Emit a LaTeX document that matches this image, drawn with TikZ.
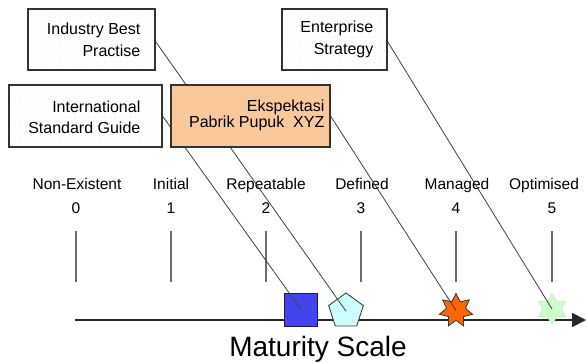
\documentclass[tikz,border=0pt]{standalone}
\usepackage{fontspec}
\setmainfont{Liberation Sans}
\usetikzlibrary{shapes.geometric,arrows.meta,patterns.meta}
\definecolor{peach}{RGB}{250,200,155}
\definecolor{sqblue}{RGB}{68,68,238}
\definecolor{sqedge}{RGB}{25,25,90}
\definecolor{pentfill}{RGB}{204,255,255}
\definecolor{orangestar}{RGB}{255,102,0}
\definecolor{greenstar}{RGB}{204,255,204}
\definecolor{greenedge}{RGB}{185,240,185}
\pgfdeclarelayer{bg}
\pgfdeclarelayer{mid}
\pgfsetlayers{bg,mid,main}
\tikzset{
  boxnode/.style={draw=black!80, line width=1.1pt, preaction={fill=#1},
    pattern={Dots[distance=5pt,radius=0.35pt]}, pattern color=black!22,
    inner sep=0pt},
  boxnode/.default=white,
  boxtext/.style={font=\fontsize{16}{22}\selectfont, align=right, inner sep=0pt},
  scalelbl/.style={font=\fontsize{15.5}{18}\selectfont, inner sep=0pt, anchor=base},
  tickline/.style={draw=gray!85!black, line width=1.7pt},
  conn/.style={draw=black!75, line width=0.8pt},
}
\begin{document}
\begin{tikzpicture}[x=1pt,y=1pt]
\useasboundingbox (0,0) rectangle (586,362);
\begin{pgfonlayer}{bg}
  % ticks
  \foreach \i/\x in {0/76,1/171,2/266,3/361,4/456,5/552}{
    \coordinate (tt\i) at (\x,131);
    \coordinate (tb\i) at (\x,80);
    \draw[tickline] (tt\i) -- (tb\i);
    \node[scalelbl] (num\i) at (\x,148.5) {\i};
  }
  \node[scalelbl] (l0) at (77,172.5) {Non-Existent};
  \node[scalelbl] (l1) at (171,172.5) {Initial};
  \node[scalelbl] (l2) at (266,172.5) {Repeatable};
  \node[scalelbl] (l3) at (362,172.5) {Defined};
  \node[scalelbl] (l4) at (457,172.5) {Managed};
  \node[scalelbl] (l5) at (544,172.5) {Optimised};
  % axis
  \coordinate (axs) at (75,42);
  \coordinate (axe) at (586,42);
  \draw[line width=1.8pt, black!85, -{Triangle[length=14pt,width=14pt]}] (axs) -- (axe);
  \node[font=\fontsize{28}{32}\selectfont, inner sep=0pt, anchor=base] (title) at (318,6) {Maturity Scale};
  % markers
  \node[draw=sqedge, line width=1pt, fill=sqblue, minimum size=33pt, inner sep=0pt] (sq) at (301,52.5) {};
  \node[regular polygon, regular polygon sides=5, draw=black!75, line width=0.9pt, fill=pentfill, minimum size=36.5pt, inner sep=0pt] (pent) at (346,50.8) {};
  \node[star, star points=7, star point ratio=1.75, draw=black!80, line width=0.8pt, fill=orangestar, minimum size=34pt, inner sep=0pt] (ostar) at (456,51.5) {};
  \node[star, star points=6, star point ratio=1.7, draw=greenedge, line width=0.6pt, fill=greenstar, minimum size=31pt, inner sep=0pt] (gstar) at (552,53) {};
\end{pgfonlayer}
% boxes
\node[boxnode, minimum width=127pt, minimum height=61pt] (ibp) at (91.5,322.5) {};
\node[boxnode, minimum width=153pt, minimum height=62pt] (isg) at (85.5,246) {};
\node[boxnode=peach, minimum width=159pt, minimum height=62pt] (eks) at (250.5,246) {};
\node[boxnode, minimum width=105pt, minimum height=61pt] (ent) at (334.5,322.5) {};
\node[boxtext, anchor=east] (ibpt) at ([xshift=-15pt]ibp.east) {Industry Best\hspace{3pt}\\Practise};
\node[boxtext, anchor=east] (isgt) at ([xshift=-22pt,yshift=-1pt]isg.east) {International\\[-1pt]Standard Guide};
\node[boxtext, anchor=east] (ekst) at ([xshift=-6pt,yshift=1pt]eks.east) {Ekspektasi\hspace{14pt}\\[-6pt]Pabrik Pupuk\ \ XYZ};
\node[boxtext, anchor=east] (entt) at ([xshift=-14pt]ent.east) {Enterprise\hspace{4pt}\\Strategy};
\begin{pgfonlayer}{mid}
  \draw[conn] (isg.east) -- (sq.center);
  \draw[conn] ([yshift=-2pt]ibp.east) -- (pent.center);
  \draw[conn] (eks.east) -- (ostar.center);
  \draw[conn] ([yshift=-2pt]ent.east) -- (gstar.center);
\end{pgfonlayer}
\end{tikzpicture}
\end{document}
